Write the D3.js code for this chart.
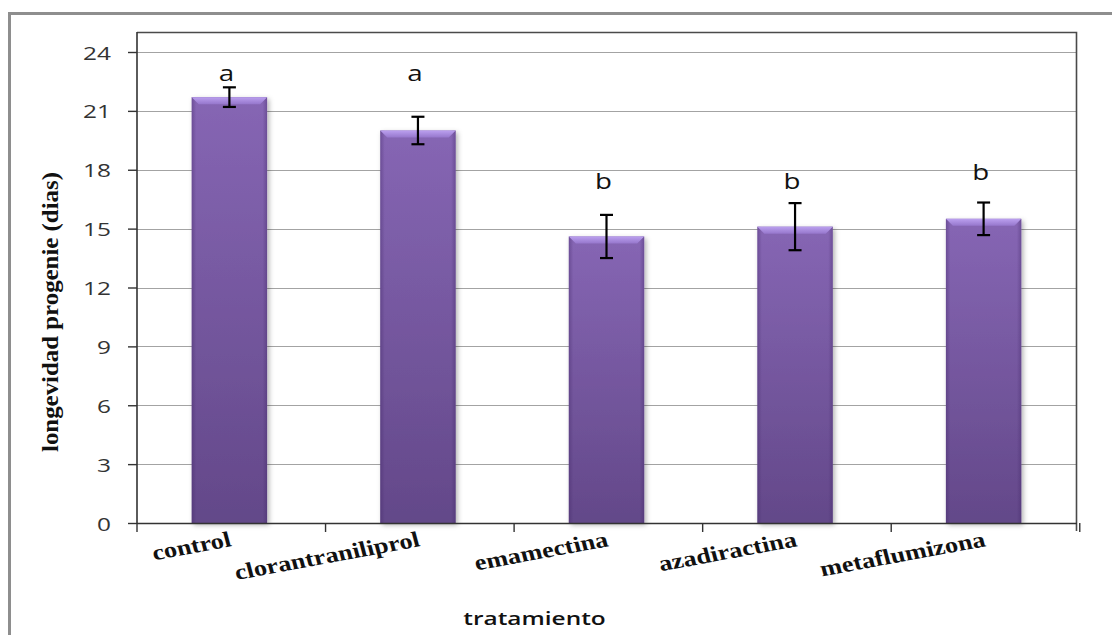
<!DOCTYPE html>
<html>
<head>
<meta charset="utf-8">
<script src="https://cdn.jsdelivr.net/npm/d3@7"></script>
<style>
  html, body { margin: 0; padding: 0; background: #fff; }
  svg { display: block; }
</style>
</head>
<body>
<svg id="chart" width="1112" height="635"></svg>
<script>
// ---- data ----
const categories = ["control", "clorantraniliprol", "emamectina", "azadiractina", "metaflumizona"];
const means = [21.7, 20.0, 14.6, 15.1, 15.5];
const errors = [0.5, 0.7, 1.1, 1.2, 0.83];
const letters = ["a", "a", "b", "b", "b"];
const letterPos = [22.5, 22.5, 17.0, 17.0, 17.5];
const yTicks = [0, 3, 6, 9, 12, 15, 18, 21, 24];
const yTitle = "longevidad progenie (dias)";
const xTitle = "tratamiento";

const svg = d3.select("#chart");
const SX = 1.32; // horizontal stretch of text in the reference

const margin = { left: 137, right: 1076, top: 32, bottom: 523 };
const y = d3.scaleLinear().domain([0, 24]).range([margin.bottom, 52]);
const x = d3.scaleBand().domain(categories).range([margin.left, margin.right])
  .paddingInner(0.6).paddingOuter(0.29);
const step = x.step();
const bw = x.bandwidth();

// outer frame
svg.append("rect").attr("x", 9.5).attr("y", 13.5).attr("width", 1200).attr("height", 700)
  .attr("fill", "none").attr("stroke", "#8e8e8e").attr("stroke-width", 3);

const defs = svg.append("defs");
const g1 = defs.append("linearGradient").attr("id", "barGrad").attr("x1", 0).attr("y1", 0).attr("x2", 0).attr("y2", 1);
g1.append("stop").attr("offset", "0%").attr("stop-color", "#8666b4");
g1.append("stop").attr("offset", "100%").attr("stop-color", "#634889");
const g2 = defs.append("linearGradient").attr("id", "sideGrad").attr("x1", 0).attr("y1", 0).attr("x2", 1).attr("y2", 0);
g2.append("stop").attr("offset", "0%").attr("stop-color", "#3e2363").attr("stop-opacity", 0.35);
g2.append("stop").attr("offset", "6%").attr("stop-color", "#3e2363").attr("stop-opacity", 0.0);
g2.append("stop").attr("offset", "94%").attr("stop-color", "#3e2363").attr("stop-opacity", 0.0);
g2.append("stop").attr("offset", "100%").attr("stop-color", "#3e2363").attr("stop-opacity", 0.35);
const g3 = defs.append("linearGradient").attr("id", "bevelGrad").attr("x1", 0).attr("y1", 0).attr("x2", 0).attr("y2", 1);
g3.append("stop").attr("offset", "0%").attr("stop-color", "#bba0ef");
g3.append("stop").attr("offset", "100%").attr("stop-color", "#9677cc");
const f = defs.append("filter").attr("id", "shadow").attr("x", "-20%").attr("y", "-10%").attr("width", "140%").attr("height", "130%");
f.append("feDropShadow").attr("dx", 2).attr("dy", 2).attr("stdDeviation", 2.5)
  .attr("flood-color", "#000").attr("flood-opacity", 0.3);

// gridlines
svg.append("g").selectAll("line").data(yTicks.filter(d => d > 0)).join("line")
  .attr("x1", margin.left).attr("x2", margin.right)
  .attr("y1", d => Math.round(y(d)) + 0.5).attr("y2", d => Math.round(y(d)) + 0.5)
  .attr("stroke", "#a3a3a3").attr("stroke-width", 1.2);

// plot border (top & right)
svg.append("path")
  .attr("d", `M${margin.left},${margin.top + 0.5}H${margin.right + 0.5}V${margin.bottom + 8}`)
  .attr("fill", "none").attr("stroke", "#4a4a4a").attr("stroke-width", 1.6);

// bars
const bars = svg.append("g").selectAll("g").data(categories).join("g");
bars.append("rect")
  .attr("x", d => x(d)).attr("y", (d, i) => y(means[i]))
  .attr("width", bw).attr("height", (d, i) => y(0) - y(means[i]))
  .attr("fill", "url(#barGrad)").attr("filter", "url(#shadow)");
bars.append("rect")
  .attr("x", d => x(d)).attr("y", (d, i) => y(means[i]))
  .attr("width", bw).attr("height", (d, i) => y(0) - y(means[i]))
  .attr("fill", "url(#sideGrad)");
bars.append("path")
  .attr("d", (d, i) => {
    const x0 = x(d), t = y(means[i]), b = 7;
    return `M${x0},${t}H${x0 + bw}L${x0 + bw - b},${t + b}H${x0 + b}Z`;
  })
  .attr("fill", "url(#bevelGrad)");

// error bars
const eb = svg.append("g").attr("stroke", "#000").attr("stroke-width", 2.2);
categories.forEach((c, i) => {
  const cx = x(c) + bw / 2;
  const hi = y(means[i] + errors[i]), lo = y(means[i] - errors[i]);
  eb.append("line").attr("x1", cx).attr("x2", cx).attr("y1", hi).attr("y2", lo);
  eb.append("line").attr("x1", cx - 6.5).attr("x2", cx + 6.5).attr("y1", hi).attr("y2", hi);
  eb.append("line").attr("x1", cx - 6.5).attr("x2", cx + 6.5).attr("y1", lo).attr("y2", lo);
});

// letters
svg.append("g").selectAll("text").data(categories).join("text")
  .attr("transform", (d, i) => `translate(${x(d) + bw / 2 - 3},${y(letterPos[i])}) scale(${SX},1)`)
  .attr("text-anchor", "middle")
  .attr("font-family", "Open Sans, sans-serif").attr("font-size", 21).attr("fill", "#111")
  .text((d, i) => letters[i]);

// y axis
const yAxis = svg.append("g").attr("transform", `translate(${margin.left},0)`)
  .call(d3.axisLeft(y).tickValues(yTicks).tickSize(9).tickFormat(d3.format("d")));
yAxis.select(".domain").attr("stroke", "#333").attr("stroke-width", 1.6).attr("d", `M0,${margin.top}V${margin.bottom}`);
yAxis.selectAll(".tick line").attr("stroke", "#333").attr("stroke-width", 1.4);
yAxis.selectAll(".tick text")
  .attr("x", null).attr("dy", null)
  .attr("transform", `translate(-26,7) scale(${SX},1)`)
  .attr("font-family", "Open Sans, sans-serif").attr("font-size", 18.5).attr("fill", "#333");

// x axis baseline & ticks
const xb = svg.append("g");
xb.append("line").attr("x1", margin.left).attr("x2", margin.right + 1)
  .attr("y1", margin.bottom + 0.5).attr("y2", margin.bottom + 0.5)
  .attr("stroke", "#333").attr("stroke-width", 1.6);
xb.selectAll(".xt").data(d3.range(categories.length + 1)).join("line").attr("class", "xt")
  .attr("x1", i => margin.left + i * step).attr("x2", i => margin.left + i * step)
  .attr("y1", margin.bottom).attr("y2", margin.bottom + 9)
  .attr("stroke", "#333").attr("stroke-width", 1.4);

// category labels
svg.append("g").selectAll("text").data(categories).join("text")
  .attr("transform", d => `translate(${x(d) + bw / 2 + 3},546) scale(1.2,1) rotate(-12.5)`)
  .attr("text-anchor", "end")
  .attr("font-family", "Liberation Serif, Times New Roman, serif").attr("font-weight", "bold")
  .attr("font-size", 22).attr("fill", "#111")
  .text(d => d);

// axis titles
svg.append("text")
  .attr("transform", `translate(${(margin.left + margin.right) / 2 - 72},625) scale(${SX},1)`)
  .attr("text-anchor", "middle")
  .attr("font-family", "Open Sans, sans-serif").attr("font-weight", 600)
  .attr("font-size", 18.5).attr("fill", "#111")
  .text(xTitle);

svg.append("text")
  .attr("transform", `translate(58,312) rotate(-90)`)
  .attr("text-anchor", "middle")
  .attr("font-family", "Liberation Serif, Times New Roman, serif").attr("font-weight", "bold")
  .attr("font-size", 24).attr("fill", "#111")
  .attr("textLength", 280).attr("lengthAdjust", "spacingAndGlyphs")
  .text(yTitle);
</script>
</body>
</html>
